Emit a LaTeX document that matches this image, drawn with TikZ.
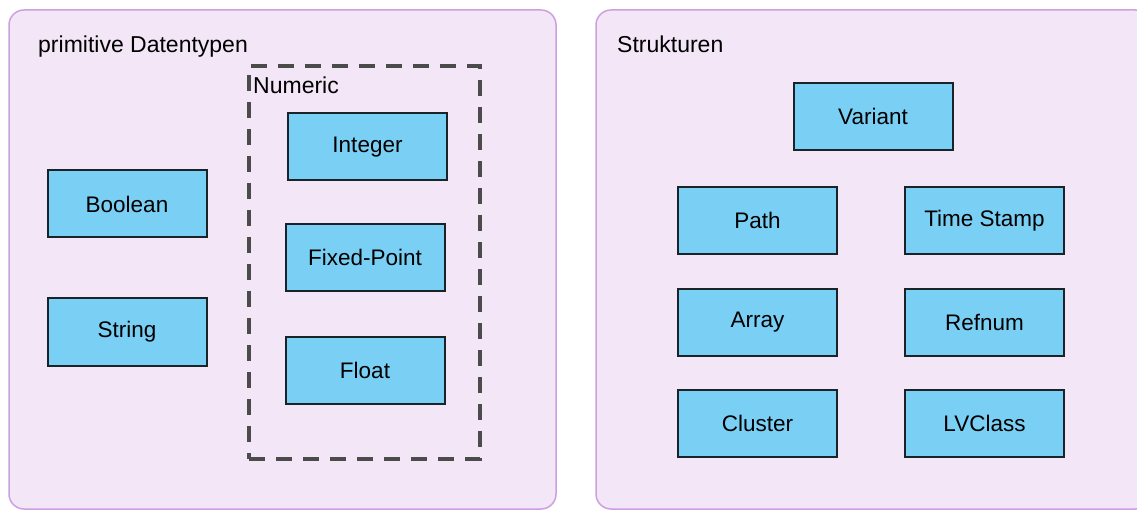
\documentclass[tikz,border=0pt]{standalone}
\usepackage{fontspec}
\setmainfont{Liberation Sans}
\usetikzlibrary{positioning}
\definecolor{grpfill} {RGB}{243,230,247}
\definecolor{grpline} {RGB}{205,160,225}
\definecolor{typfill} {RGB}{122,207,244}
\definecolor{typline} {RGB}{ 25, 35, 40}
\definecolor{dashgray}{RGB}{ 75, 75, 75}
\tikzset{
  grp/.style={draw=grpline,fill=grpfill,line width=1.5pt,
              rounded corners=15pt,inner sep=0pt},
  typ/.style={draw=typline,fill=typfill,line width=2pt,
              minimum width=159pt,minimum height=67pt,
              inner sep=0pt,outer sep=0pt,
              font=\fontsize{22.5}{26}\selectfont},
  grptitle/.style={anchor=base west,inner sep=0pt,
              font=\fontsize{23}{27}\selectfont},
  numbox/.style={draw=dashgray,line width=3.5pt,
              dash pattern=on 16pt off 11pt,
              minimum width=231pt,minimum height=393pt,inner sep=0pt},
}

\begin{document}
\begin{tikzpicture}[x=1pt,y=-1pt,node distance=35pt and 68pt]
  \useasboundingbox (0,0) rectangle (1137,510);

  % Panels
  \node[grp,minimum width=547pt,minimum height=499pt] (prim)   at (282.5,259.5) {};
  \node[grp,minimum width=554pt,minimum height=499pt] (strukt) at (873,259.5)   {};
  \node[grptitle] (primlbl)   at (38,53)  {primitive Datentypen};
  \node[grptitle] (struktlbl) at (617,53) {Strukturen};

  % Left panel
  \node[typ]                 (bool) at (127,204) {Boolean};
  \node[typ,below=61pt of bool] (str)            {String};

  \node[numbox] (num) at (364.5,262.5) {};
  \node[grptitle] (numlbl) at (253,94) {Numeric};
  \node[typ] (int) at (367.5,147)   {Integer};
  \node[typ] (fix) at (365,257.5)   {Fixed-Point};
  \node[typ,below=46pt of fix] (flt) {Float};

  % Right panel
  \node[typ]                 (var)  at (873,116.5) {Variant};
  \node[typ]                 (path) at (757.5,220.5) {Path};
  \node[typ,right=of path]   (ts)   {Time Stamp};
  \node[typ,below=of path]   (arr)  {Array};
  \node[typ,below=of ts]     (ref)  {Refnum};
  \node[typ,below=34pt of arr] (clu) {Cluster};
  \node[typ,below=34pt of ref] (lvc) {LVClass};
\end{tikzpicture}
\end{document}
